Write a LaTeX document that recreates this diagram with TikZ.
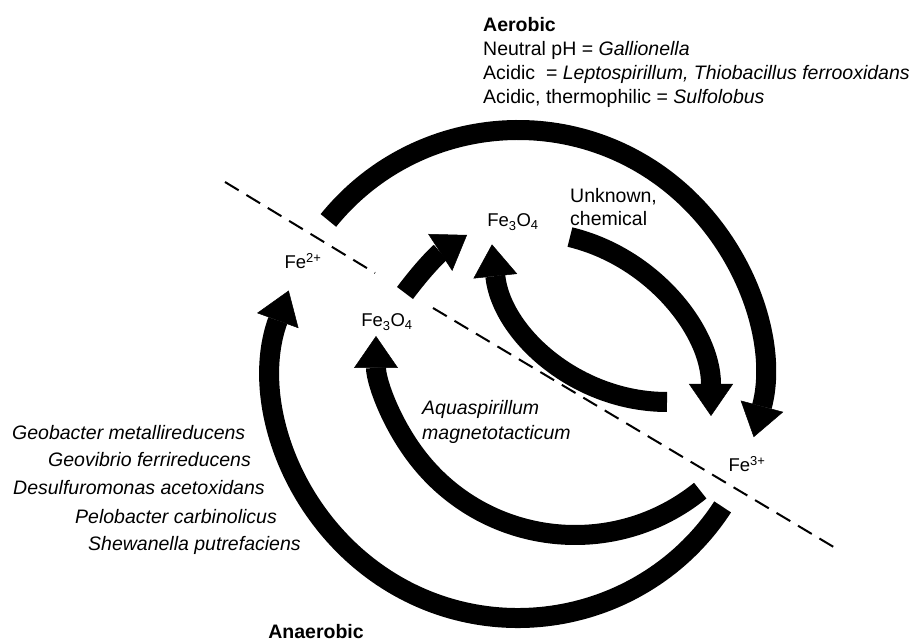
\documentclass[tikz,border=0pt]{standalone}
\usepackage{fontspec}
\setmainfont{Liberation Sans}
\usetikzlibrary{arrows.meta,calc}

\newcommand{\figfont}{\fontsize{19.5}{24}\selectfont}
\newcommand{\chemfont}{\fontsize{18.5}{22}\selectfont}

\tikzset{
  flux/.style={line width=20pt,-{Triangle[length=32pt,width=44pt,line width=0.5pt]}},
  boundary/.style={line width=2pt,dash pattern=on 16pt off 9pt},
  species/.style={anchor=base west,font=\figfont\itshape},
  heading/.style={font=\figfont\bfseries},
  ironlbl/.style={anchor=base,font=\chemfont},
}

\begin{document}
\begin{tikzpicture}[x=1pt,y=1pt,font=\figfont,inner sep=0pt]
  \useasboundingbox (0,0) rectangle (921,643);

  % centres des arcs
  \coordinate (outerC) at (518,269);
  \coordinate (innerC) at (575,307);
  \coordinate (chemC) at (527,227);
  \coordinate (backC) at (667,417);

  \coordinate (aerS) at ($(outerC)+(141:244)$);
  \coordinate (anaS) at ($(outerC)+(-33:244)$);
  \coordinate (aquaS) at ($(innerC)+(-51:199)$);
  \coordinate (chemS) at ($(chemC)+(76.5:184)$);
  \coordinate (backS) at ($(backC)+(-90:176)$);
  \coordinate (smallS) at (405,350);
  \coordinate (smallE) at (467,408);

  % limite aerobie / anaerobie
  \coordinate (divA) at (225,461);
  \coordinate (divB) at (375,370);
  \coordinate (divC) at (433,335);
  \coordinate (divD) at (837,94);
  \draw[boundary] (divA) -- (divB);
  \draw[boundary] (divC) -- (divD);

  % fleches
  \draw[flux] (aerS) arc[start angle=141,end angle=-15,radius=244];
  \draw[flux] (anaS) arc[start angle=-33,end angle=-200,radius=244];
  \draw[flux] (aquaS) arc[start angle=-51,end angle=-180,radius=199];
  \draw[flux] (chemS) arc[start angle=76.5,end angle=0,radius=184];
  \draw[flux] (backS) arc[start angle=-90,end angle=-174,radius=176];
  \draw[flux] (smallS) to[bend left=10] (smallE);

  \node[ironlbl] (fetwo) at (303,374) {Fe\textsuperscript{2+}};
  \node[ironlbl] (magup) at (513,416) {Fe\textsubscript{3}O\textsubscript{4}};
  \node[ironlbl] (maglow) at (387,316) {Fe\textsubscript{3}O\textsubscript{4}};
  \node[ironlbl] (fethree) at (747,171) {Fe\textsuperscript{3+}};

  \node[anchor=base west] (unknown) at (570,440) {Unknown,};
  \node[anchor=base west] (chemical) at (570,417) {chemical};
  \node[species] (aqua) at (422,228) {Aquaspirillum};
  \node[species] (magneto) at (422,203) {magnetotacticum};

  % aerobie
  \node[heading,anchor=base west] (aerobic) at (483,611) {Aerobic};
  \node[anchor=base west] (neutral) at (483,587) {Neutral pH = \textit{Gallionella}};
  \node[anchor=base west] (acidic) at (483,563) {Acidic\ \ = \textit{Leptospirillum, Thiobacillus ferrooxidans}};
  \node[anchor=base west] (thermo) at (483,539) {Acidic, thermophilic = \textit{Sulfolobus}};

  % anaerobie
  \node[species] (geobacter) at (12,203) {Geobacter metallireducens};
  \node[species] (geovibrio) at (48,176) {Geovibrio ferrireducens};
  \node[species] (desulfo) at (13,149) {Desulfuromonas acetoxidans};
  \node[species] (pelobacter) at (75,120) {Pelobacter carbinolicus};
  \node[species] (shewanella) at (88,93) {Shewanella putrefaciens};
  \node[heading,anchor=base] (anaerobic) at (316,5) {Anaerobic};
\end{tikzpicture}
\end{document}
